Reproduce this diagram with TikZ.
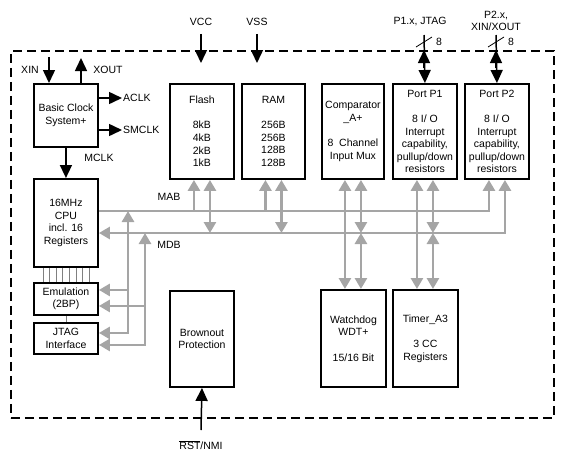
\documentclass[tikz,border=0pt]{standalone}
\usepackage{fontspec}
\setmainfont{Liberation Sans}
\usetikzlibrary{arrows.meta,calc}
\definecolor{busgray}{RGB}{165,165,165}
\tikzset{
  bt/.tip={Triangle[width=12pt,length=11pt]},
  blk/.style={draw, line width=1.9pt, inner sep=0pt, align=center, anchor=north west},
  lbl/.style={inner sep=1pt, align=center},
  arr/.style={line width=1.5pt, -{Triangle[width=12pt,length=13pt]}},
  bus/.style={draw=busgray, line width=2.8pt},
  thinl/.style={draw=gray, line width=0.8pt}
}
\begin{document}
\begin{tikzpicture}[x=1pt,y=-1pt, every node/.style={font=\fontsize{10.5}{12.6}\selectfont}]
\useasboundingbox (0,0) rectangle (571,451);
% chip outline
\node[draw, line width=1.8pt, dash pattern=on 9pt off 5pt, minimum width=543pt, minimum height=367pt, anchor=north west, inner sep=0pt] (chip) at (10,50) {};
% blocks
\node[blk, minimum width=64pt, minimum height=63pt] (clk) at (33,83) {Basic Clock\\System+};
\node[blk, minimum width=64pt, minimum height=88pt] (cpu) at (33,178) {16MHz\\CPU\\incl. 16\\Registers};
\node[blk, minimum width=64pt, minimum height=32pt] (emu) at (33,282) {Emulation\\(2BP)};
\node[blk, minimum width=64pt, minimum height=31pt] (jtag) at (33,322) {JTAG\\Interface};
\node[blk, minimum width=64pt, minimum height=95pt] (flash) at (169,83) {Flash\\[12.6pt]8kB\\4kB\\2kB\\1kB};
\node[blk, minimum width=63pt, minimum height=95pt] (ram) at (241,83) {RAM\\[12.6pt]256B\\256B\\128B\\128B};
\node[blk, minimum width=62pt, minimum height=95pt] (comp) at (321,83) {Comparator\\\_A+\\[12.6pt]8\ \ Channel\\Input Mux};
\node[blk, minimum width=64pt, minimum height=95pt] (p1) at (392,83) {Port P1\\[12.6pt]8 I/ O\\Interrupt\\capability,\\pullup/down\\resistors};
\node[blk, minimum width=64pt, minimum height=95pt] (p2) at (464,83) {Port P2\\[12.6pt]8 I/ O\\Interrupt\\capability,\\pullup/down\\resistors};
\node[blk, minimum width=65pt, minimum height=97pt] (wdt) at (320,289) {Watchdog\\WDT+\\[12.6pt]15/16 Bit};
\node[blk, minimum width=65pt, minimum height=97pt] (timer) at (392,289) {Timer\_A3\\[12.6pt]3 CC\\Registers};
\node[blk, minimum width=64pt, minimum height=96pt] (bor) at (169,290) {Brownout\\Protection};
% labels
\node[lbl] (xin) at (30,70) {XIN};
\node[lbl] (xout) at (108,70) {XOUT};
\node[lbl, anchor=west] (aclk) at (122,98) {ACLK};
\node[lbl, anchor=west] (smclk) at (122,130) {SMCLK};
\node[lbl] (mclk) at (99,158) {MCLK};
\node[lbl] (vcc) at (201,22) {VCC};
\node[lbl] (vss) at (257,22) {VSS};
\node[lbl] (p1lab) at (420,22) {P1.x, JTAG};
\node[lbl] (p2lab) at (496,21) {P2.x,\\XIN/XOUT};
\node[lbl] (n8a) at (439,42) {8};
\node[lbl] (n8b) at (511,42) {8};
\node[lbl] (mab) at (169,197) {MAB};
\node[lbl] (mdb) at (169,245) {MDB};
\node[lbl] (rst) at (201,445) {$\overline{\mbox{RST}}$/NMI};
% black arrows
\coordinate (xint) at (49,57);
\draw[arr] (xint) -- (xint |- clk.north);
\coordinate (xoutt) at (81,58);
\draw[arr] (xoutt |- clk.north) -- (xoutt);
\draw[arr] (clk.east |- aclk) -- (aclk.west);
\draw[arr] (clk.east |- smclk) -- (smclk.west);
\draw[arr] (clk.south) -- (cpu.north);
\coordinate (vcct) at (201,63);
\draw[arr] ([yshift=-7pt]vcc.south) -- (vcct);
\coordinate (vsst) at (257,63);
\draw[arr] ([yshift=-7pt]vss.south) -- (vsst);
\coordinate (p1t) at (424,35);
\coordinate (p1m) at (424,50);
\draw[arr] (p1t) -- (p1.north);
\draw[arr] ([yshift=-18pt]p1m) -- (p1m);
\draw[line width=0.8pt] (416,47) -- (432,37);
\coordinate (p2t) at (496,35);
\coordinate (p2m) at (496,50);
\draw[arr] (p2t) -- (p2.north);
\draw[arr] ([yshift=-18pt]p2m) -- (p2m);
\draw[line width=0.8pt] (488,47) -- (504,37);
\coordinate (rstb) at (201,430);
\draw[arr] (rstb) -- (bor.south);
% buses
\coordinate (mabl) at (0,211);
\coordinate (mdbl) at (0,233);
\foreach \n in {flash,ram,comp,p1,p2} {
  \coordinate (\n-a) at ($(\n.south)+(-8,0)$);
  \coordinate (\n-b) at ($(\n.south)+(8,0)$);
}
\draw[bus,-bt] (cpu.east |- mabl) -| (p2-a);
\draw[bus,bt-bt] (cpu.east |- mdbl) -| (p2-b);
\draw[bus,-bt] (flash-a |- mabl) -- (flash-a);
\draw[bus,bt-bt] (flash-b |- mdbl) -- (flash-b);
\draw[bus,-bt] (ram-a |- mabl) -- (ram-a);
\draw[bus,bt-bt] (ram-b |- mdbl) -- (ram-b);
\draw[bus,bt-bt] (comp-a) -- (comp-a |- wdt.north);
\draw[bus,bt-bt] (comp-b) -- (comp-b |- mdbl);
\draw[bus,bt-bt] (comp-b |- mdbl) -- (comp-b |- wdt.north);
\draw[bus,bt-bt] (p1-a) -- (p1-a |- timer.north);
\draw[bus,bt-bt] (p1-b) -- (p1-b |- mdbl);
\draw[bus,bt-bt] (p1-b |- mdbl) -- (p1-b |- timer.north);
% emulation / JTAG bus taps
\coordinate (v1) at (128,0);
\coordinate (v2) at (145,0);
\coordinate (e1) at ([yshift=9pt]emu.east);
\coordinate (e2) at ([yshift=-7pt]emu.east);
\coordinate (j1) at ([yshift=5.5pt]jtag.east);
\coordinate (j2) at ([yshift=-6.5pt]jtag.east);
\draw[bus,bt-bt] (v1 |- mabl) |- (j1);
\draw[bus,-bt] (e1 -| v1) -- (e1);
\draw[bus,bt-bt] (v2 |- mdbl) |- (j2);
\draw[bus,-bt] (e2 -| v2) -- (e2);
% CPU - emulation links
\foreach \i in {0,...,7}
  \draw[thinl] ([xshift={(10+\i*6.6)*1pt}]cpu.south west) -- ([xshift={(10+\i*6.6)*1pt}]emu.north west);
\draw[thinl] (emu.south) -- (jtag.north);
\end{tikzpicture}
\end{document}
